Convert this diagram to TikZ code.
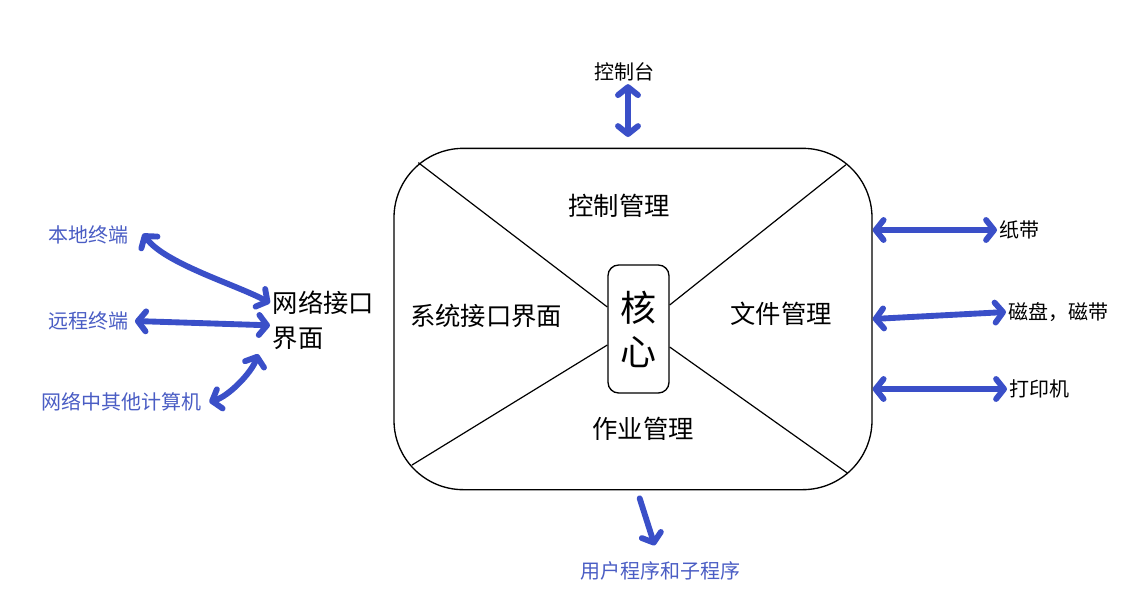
\documentclass[tikz,border=0pt]{standalone}
\usepackage{fontspec}
\setmainfont{Noto Sans CJK SC}
\usetikzlibrary{arrows.meta, calc}
\definecolor{mBlue}{HTML}{3A4FC8}
\definecolor{mTextBlue}{HTML}{4A5DC4}

\begin{document}
\begin{tikzpicture}[x=0.75pt, y=-0.75pt,
    small/.style={font=\fontsize{15}{18}\selectfont, inner sep=2pt},
    big/.style={font=\fontsize{19}{26}\selectfont, inner sep=2pt},
    edge/.style={line width=0.9pt},
    link/.style={mBlue, line width=4.4pt, line cap=round,
      >={Straight Barb[round, length=6pt, width=15pt]}}]
    \useasboundingbox (0,0) rectangle (1129,590);
    \node[draw, line width=1pt, rounded corners=52pt, minimum width=358.5pt, minimum height=256pt] (os) at (633,319) {};
    \node[draw, line width=1pt, rounded corners=8pt, minimum width=45.75pt, minimum height=96pt,
      align=center, font=\fontsize{27}{33}\selectfont] (core) at (638.5,329) {核\\心};
    \node[big] (ctrl) at (619,206) {控制管理};
    \node[big] (sysif) at (486,316) {系统接口界面};
    \node[big] (file) at (781,314) {文件管理};
    \node[big] (job) at (643,429) {作业管理};
    \draw[edge] ([shift={(18.75pt,-11.25pt)}]os.north west) -- ([yshift=16.5pt]core.west);
    \draw[edge] ([shift={(-20pt,-12.75pt)}]os.north east) -- ([yshift=18pt]core.east);
    \draw[edge] ([shift={(14pt,19pt)}]os.south west) -- ([yshift=-12pt]core.west);
    \draw[edge] ([shift={(-19pt,13pt)}]os.south east) -- ([yshift=-13.5pt]core.east);

    \node[small] (console) at (624,72) {控制台};
    \node[small, mTextBlue] (local) at (88,235) {本地终端};
    \node[small, mTextBlue] (remote) at (88,321) {远程终端};
    \node[small, mTextBlue] (others) at (121,402) {网络中其他计算机};
    \node[big, align=left, anchor=west] (netif) at (270,320) {网络接口\\界面};
    \node[small, anchor=west] (tape) at (997,230) {纸带};
    \node[small, anchor=west] (disk) at (1006,312) {磁盘，磁带};
    \node[small, anchor=west] (printer) at (1007,389) {打印机};
    \node[small, mTextBlue] (prog) at (660,571) {用户程序和子程序};

    \draw[link, <->] ([xshift=3pt]console.south) -- ($(os.north -| console.south)+(3pt,8pt)$);
    \draw[link, <->] ([xshift=9pt,yshift=1pt]local.east) .. controls +(22,30) and +(-33,-18) .. ([yshift=12.75pt]netif.west);
    \draw[link, <->] ([xshift=3pt]remote.east) -- ([yshift=-4pt]netif.west);
    \draw[link, <->] ([xshift=4pt]others.east) .. controls +(20,-6) and +(-6,18) .. ([shift={(-9pt,-25.5pt)}]netif.west);
    \draw[link, <->] (os.east |- tape.west) -- (tape.west);
    \draw[link, <->] (os.east) -- (disk.west);
    \draw[link, <->] (os.east |- printer.west) -- (printer.west);
    \draw[link, ->] ([shift={(5pt,-6pt)}]os.south) -- ([shift={(-4pt,10pt)}]prog.north);
\end{tikzpicture}
\end{document}
